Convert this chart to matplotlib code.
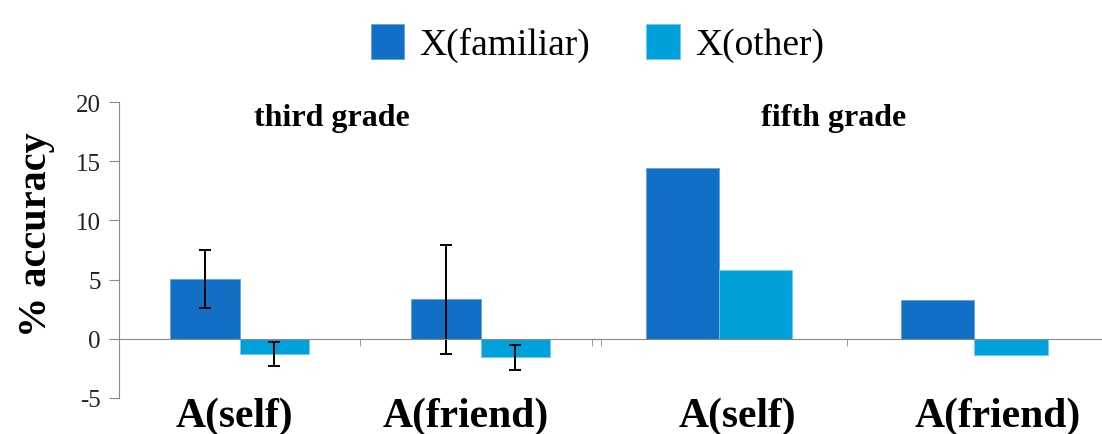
import matplotlib.pyplot as plt
import numpy as np

categories = ["A(self)", "A(friend)"]
panels = ["third grade", "fifth grade"]
series = ["X(familiar)", "X(other)"]

third_familiar = [5.05, 3.35]
third_familiar_err = [2.45, 4.6]
third_other = [-1.27, -1.58]
third_other_err = [1.0, 1.03]

fifth_familiar = [14.4, 3.3]
fifth_other = [5.85, -1.4]

dark = "#1170c6"
light = "#00a0da"
serif = ["Liberation Serif", "DejaVu Serif"]
plt.rcParams["font.family"] = serif
plt.rcParams["axes.unicode_minus"] = False

fig = plt.figure(figsize=(11.02, 4.35), dpi=100)
bottom, height = 0.0828, 0.6804
ax1 = fig.add_axes([0.108, bottom, 0.4374, height])
ax2 = fig.add_axes([0.5354, bottom, 0.4646, height])

x = np.arange(len(categories))
w = 0.287

b1 = ax1.bar(x - w / 2, third_familiar, w, color=dark, edgecolor="#5fa3e0", linewidth=0.6,
             yerr=third_familiar_err, capsize=4, error_kw=dict(lw=1.4, capthick=1.4, ecolor="black"),
             label=series[0])
b2 = ax1.bar(x + w / 2, third_other, w, color=light, edgecolor="#6fcdf0", linewidth=0.6,
             yerr=third_other_err, capsize=4, error_kw=dict(lw=1.4, capthick=1.4, ecolor="black"),
             label=series[1])

ax2.bar(x - w / 2, fifth_familiar, w, color=dark, edgecolor="#5fa3e0", linewidth=0.6)
ax2.bar(x + w / 2, fifth_other, w, color=light, edgecolor="#6fcdf0", linewidth=0.6)

ax1.set_xlim(-0.5, 1.5)
ax2.set_xlim(-0.506, 1.471)
label_shift = [[-0.02, -0.06], [0.07, 0.09]]
title_x = [0.385, 0.45]
for ax, title, shift, tx in zip((ax1, ax2), panels, label_shift, title_x):
    ax.set_ylim(-5, 20)
    for s in ("top", "right"):
        ax.spines[s].set_visible(False)
    ax.spines["bottom"].set_position(("data", 0))
    ax.spines["bottom"].set_color("#8a8a8a")
    ax.set_xticks([])
    ax.set_xticks([-0.5, 0.5, 1.5], minor=True)
    ax.tick_params(axis="x", which="minor", direction="out", length=5, color="#8a8a8a")
    for i, cat in enumerate(categories):
        ax.text(i + shift[i], -4.9, cat, ha="center", va="top", fontsize=30,
                fontweight="bold", clip_on=False)
    ax.text(tx, 18.7, title, ha="center", va="center", fontsize=23, fontweight="bold")

ax1.spines["left"].set_color("#8a8a8a")
ax1.set_yticks([-5, 0, 5, 10, 15, 20])
ax1.tick_params(axis="y", direction="out", length=7, color="#8a8a8a", labelsize=18,
                labelcolor="#222222", pad=6)
ax1.set_ylabel("% accuracy", fontsize=29, fontweight="bold")
ax1.yaxis.set_label_coords(-0.133, 0.554)

ax2.spines["left"].set_visible(False)
ax2.set_yticks([])
ax2.patch.set_alpha(0)

fig.legend(handles=[b1, b2], labels=series, loc="upper center", bbox_to_anchor=(0.542, 1.02),
           ncol=2, frameon=False, fontsize=27, handlelength=0.9, handleheight=1.05,
           columnspacing=1.5, handletextpad=0.4)

fig.savefig("out.png", dpi=100)
